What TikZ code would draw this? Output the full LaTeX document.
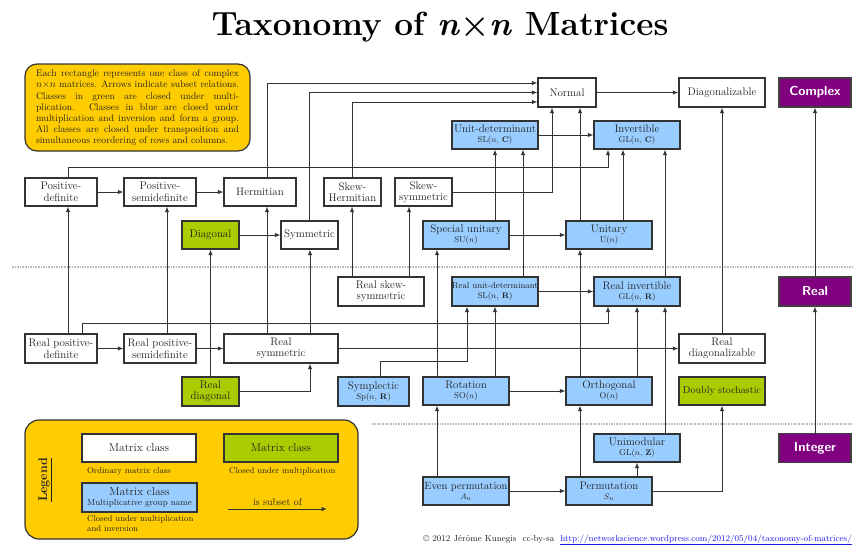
\documentclass[tikz,border=0pt]{standalone}
\usetikzlibrary{arrows.meta}

\definecolor{bluebox}{HTML}{99CCFF}
\definecolor{greenbox}{HTML}{AACC00}
\definecolor{yellowbox}{HTML}{FFCC00}
\definecolor{purplebox}{HTML}{800080}
\definecolor{edgec}{HTML}{333333}
\definecolor{inkc}{HTML}{222222}
\definecolor{sepgray}{HTML}{BBBBBB}
\definecolor{linkblue}{HTML}{1A1AE6}

% second line of a group box: the group's name in smaller type
\newcommand\grpname[1]{\\[-1.5pt]{\fontsize{8.5}{9}\selectfont #1}}

\tikzset{
  cls/.style={draw=edgec, line width=1.2pt, text=inkc, inner sep=0pt,
    align=center, font=\fontsize{11}{11.5}\selectfont, minimum height=28},
  wcls/.style={cls, fill=white},
  gcls/.style={cls, fill=greenbox},
  bcls/.style={cls, fill=bluebox},
  pcls/.style={draw=black!75, line width=1.2pt, fill=purplebox, text=white,
    font=\sffamily\bfseries\fontsize{13}{13}\selectfont,
    minimum width=72, minimum height=29, inner sep=0pt},
  link/.style={draw=edgec, line width=1pt, -{Latex[length=5.5pt,width=4.5pt]}},
  sepline/.style={draw=sepgray, line width=2.6pt, dash pattern=on 1.6pt off 1pt},
  note/.style={text=inkc, inner sep=0pt, font=\fontsize{8.5}{10.5}\selectfont, align=left},
}

\begin{document}
\begin{tikzpicture}[x=1pt,y=-1pt]
\useasboundingbox (0,0) rectangle (854,546);
\fill[white] (0,0) rectangle (854,546);

% title
\node[anchor=base, font=\bfseries\fontsize{33.5}{38}\selectfont, text=black, inner sep=0pt]
  (title) at (440,35) {Taxonomy of \textit{n}×\textit{n} Matrices};

% separators between complex / real / integer levels
\draw[sepline] (12,267) -- (852,267);
\draw[sepline] (372,424) -- (852,424);

% explanatory note
\draw[draw=edgec, line width=1.2pt, fill=yellowbox, rounded corners=12] (25,64) rectangle (250,151);
\node[text width=203, align=justify, font=\fontsize{9.6}{11.2}\selectfont, text=inkc, inner sep=0pt]
  (infotext) at (137.5,108) {Each rectangle represents one class of complex\linebreak
  $n{\times}n$ matrices. Arrows indicate subset relations.\linebreak
  Classes in green are closed under multi-\linebreak
  plication. Classes in blue are closed under\linebreak
  multiplication and inversion and form a group.\linebreak
  All classes are closed under transposition and\linebreak
  simultaneous reordering of rows and columns.};

% ---- matrix classes ----
\node[wcls, minimum width=58, minimum height=29] (normal) at (567,92.5) {Normal};
\node[wcls, minimum width=86, minimum height=29] (diagz) at (722,92.5) {Diagonalizable};
\node[pcls] (complex) at (815,92.5) {Complex};

\node[bcls, minimum width=86] (slc) at (495,135) {Unit-determinant\grpname{SL($n$, $\mathbf{C}$)}};
\node[bcls, minimum width=86] (glc) at (637,135) {Invertible\grpname{GL($n$, $\mathbf{C}$)}};

\node[wcls, minimum width=72] (pd) at (61,192) {Positive-\\definite};
\node[wcls, minimum width=72] (psd) at (160,192) {Positive-\\semidefinite};
\node[wcls, minimum width=72] (herm) at (260,192) {Hermitian};
\node[wcls, minimum width=57] (skh) at (352.5,192) {Skew-\\Hermitian};
\node[wcls, minimum width=57] (sks) at (423.5,192) {Skew-\\symmetric};

\node[gcls, minimum width=57] (diagonal) at (210.5,235) {Diagonal};
\node[wcls, minimum width=57] (sym) at (309.5,235) {Symmetric};
\node[bcls, minimum width=86] (su) at (466,235) {Special unitary\grpname{SU($n$)}};
\node[bcls, minimum width=86] (un) at (609,235) {Unitary\grpname{U($n$)}};

\node[wcls, minimum width=86, minimum height=29] (rsks) at (381,291.5) {Real skew-\\symmetric};
\node[bcls, minimum width=86, minimum height=29] (slr) at (495,291.5)
  {{\fontsize{8.6}{9}\selectfont Real unit-determinant}\grpname{SL($n$, $\mathbf{R}$)}};
\node[bcls, minimum width=86, minimum height=29] (glr) at (637,291.5) {Real invertible\grpname{GL($n$, $\mathbf{R}$)}};
\node[pcls] (real) at (815,291.5) {Real};

\node[wcls, minimum width=72, minimum height=29] (rpd) at (61,348.5) {Real positive-\\definite};
\node[wcls, minimum width=72, minimum height=29] (rpsd) at (160,348.5) {Real positive-\\semidefinite};
\node[wcls, minimum width=114, minimum height=29] (rsym) at (281,348.5) {Real\\symmetric};
\node[wcls, minimum width=86, minimum height=29] (rdiagz) at (722,348.5) {Real\\diagonalizable};

\node[gcls, minimum width=57, minimum height=29] (rdiag) at (210.5,391.5) {Real\\diagonal};
\node[bcls, minimum width=71, minimum height=29] (sp) at (373.5,391.5) {Symplectic\grpname{Sp($n$, $\mathbf{R}$)}};
\node[bcls, minimum width=86] (so) at (466,391) {Rotation\grpname{SO($n$)}};
\node[bcls, minimum width=86] (on) at (609,391) {Orthogonal\grpname{O($n$)}};
\node[gcls, minimum width=86, font=\fontsize{10}{10}\selectfont] (dstoch) at (722,391) {Doubly stochastic};

\node[bcls, minimum width=86] (glz) at (637,448) {Unimodular\grpname{GL($n$, $\mathbf{Z}$)}};
\node[pcls] (integer) at (815,448) {Integer};

\node[bcls, minimum width=86] (an) at (466,491)
  {{\fontsize{10.5}{11}\selectfont Even permutation}\grpname{$A_n$}};
\node[bcls, minimum width=86] (sn) at (609,491) {Permutation\grpname{$S_n$}};

% ---- subset relations ----
% complex level
\draw[link] (pd) -- (psd);
\draw[link] (psd) -- (herm);
\draw[link] ([xshift=7]herm.north) |- ([yshift=9.5]normal.west);
\draw[link] (sym.north) |- (normal.west);
\draw[link] (skh.north) |- ([yshift=-9.5]normal.west);
\draw[link] (sks.east) -| ([xshift=-15]normal.south);
\draw[link] ([xshift=-29]un.north) -- ([xshift=-29]un.north |- normal.south);
\draw[link] ([xshift=14]un.north) -- ([xshift=14]un.north |- glc.south);
\draw[link] (normal) -- (diagz);
\draw[link] (slc) -- (glc);
\draw[link] ([xshift=7]pd.north) -- ++(0,-10) -| ([xshift=-29]glc.south);
\draw[link] ([xshift=29]su.north) -- (slc.south);
\draw[link] (su) -- (un);
\draw[link] (diagonal) -- (sym);

% real level to complex level
\draw[link] ([xshift=7]rpd.north) -- ([xshift=7]pd.south);
\draw[link] ([xshift=7]rpsd.north) -- ([xshift=7]psd.south);
\draw[link] ([xshift=-14]rsym.north) -- ([xshift=7]herm.south);
\draw[link] ([xshift=29]rsym.north) -- ([xshift=29]rsym.north |- sym.south);
\draw[link] (rdiag) -- (diagonal);
\draw[link] ([xshift=-29]rsks.north) -- ([xshift=-29]rsks.north |- skh.south);
\draw[link] ([xshift=28]rsks.north) -- ([xshift=28]rsks.north |- sks.south);
\draw[link] ([xshift=28]slr.north) -- ([xshift=28]slc.south);
\draw[link] ([xshift=28]glr.north) -- ([xshift=28]glc.south);
\draw[link] (rdiagz) -- (diagz);
\draw[link] (real) -- (complex);
\draw[link] ([xshift=-29]so.north) -- ([xshift=-29]su.south);
\draw[link] ([xshift=-29]on.north) -- ([xshift=-29]un.south);

% real level
\draw[link] (rpd) -- (rpsd);
\draw[link] (rpsd) -- (rsym);
\draw[link] (rsym) -- (rdiagz);
\draw[link] ([xshift=21]rpd.north) -- ++(0,-10) -| ([xshift=-29]glr.south);
\draw[link] (rdiag.east) -| ([xshift=29]rsym.south);
\draw[link] (slr) -- (glr);
\draw[link] ([xshift=6.5]sp.north) -- ++(0,-15) -| ([xshift=-28]slr.south);
\draw[link] ([xshift=29]so.north) -- (slr.south);
\draw[link] (so) -- (on);
\draw[link] ([xshift=28]on.north) -- (glr.south);

% integer level
\draw[link] ([xshift=28]glz.north) -- ([xshift=28]glr.south);
\draw[link] (integer) -- (real);
\draw[link] ([xshift=-29]an.north) -- ([xshift=-29]so.south);
\draw[link] (an) -- (sn);
\draw[link] ([xshift=-29]sn.north) -- ([xshift=-29]on.south);
\draw[link] ([xshift=28]sn.north) -- (glz.south);
\draw[link] (sn.east) -| (dstoch.south);

% ---- legend ----
\draw[draw=edgec, line width=1.2pt, fill=yellowbox, rounded corners=14] (25,420) rectangle (358,539);
\node[rotate=90, font=\bfseries\fontsize{12.5}{12.5}\selectfont, text=inkc, inner sep=0pt]
  (legtitle) at (45,480) {\underline{Legend}};
\node[wcls, minimum width=114, font=\fontsize{11.5}{12}\selectfont] (legw) at (139,448) {Matrix class};
\node[note, anchor=west] (legwtxt) at (87,471) {Ordinary matrix class};
\node[gcls, minimum width=114, font=\fontsize{11.5}{12}\selectfont] (legg) at (281,448) {Matrix class};
\node[note, anchor=west] (leggtxt) at (229,471) {Closed under multiplication};
\node[bcls, minimum width=115, minimum height=29, font=\fontsize{11.5}{12}\selectfont] (legb) at (139.5,497.5)
  {Matrix class\\[-2.5pt]{\fontsize{8.8}{9}\selectfont Multiplicative group name}};
\node[note, anchor=north west] (legbtxt) at (87,515) {Closed under multiplication\\and inversion};
\coordinate (legfrom) at (228,509);
\coordinate (legto) at (327,509);
\draw[link] (legfrom) -- node[above=3pt, note, font=\fontsize{10}{11}\selectfont] {is subset of} (legto);

% credit line
\node[anchor=base east, font=\fontsize{8.8}{10}\selectfont, text=inkc, inner sep=0pt]
  (credit) at (852,541) {\textcopyright{} 2012 Jérôme Kunegis\ \ cc-by-sa\ \
  \textcolor{linkblue}{\underline{http://networkscience.wordpress.com/2012/05/04/taxonomy-of-matrices/}}};
\end{tikzpicture}
\end{document}
